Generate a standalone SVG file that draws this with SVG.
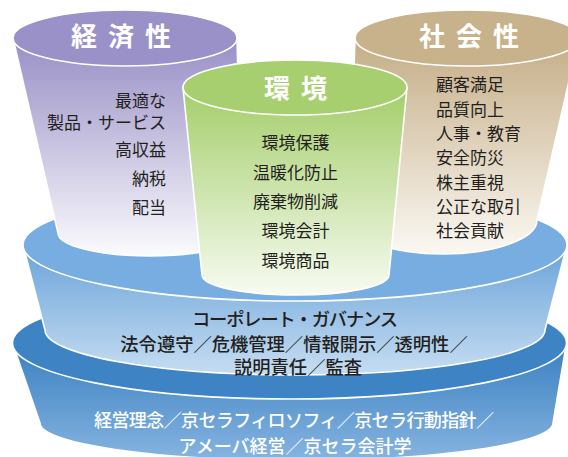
<svg xmlns="http://www.w3.org/2000/svg" width="568" height="457" viewBox="0 0 568 457">
  <defs>
    <linearGradient id="gBase" gradientUnits="userSpaceOnUse" x1="0" y1="345" x2="0" y2="460">
      <stop offset="0" stop-color="#3a80c1"/>
      <stop offset="1" stop-color="#86b4e0"/>
    </linearGradient>
    <linearGradient id="gGov" gradientUnits="userSpaceOnUse" x1="0" y1="245" x2="0" y2="375">
      <stop offset="0" stop-color="#6aa3d9"/>
      <stop offset="1" stop-color="#c6ddf2"/>
    </linearGradient>
    <linearGradient id="gEco" gradientUnits="userSpaceOnUse" x1="0" y1="40" x2="0" y2="256">
      <stop offset="0" stop-color="#9890c6"/>
      <stop offset="1" stop-color="#fbfafd"/>
    </linearGradient>
    <linearGradient id="gSoc" gradientUnits="userSpaceOnUse" x1="0" y1="40" x2="0" y2="254">
      <stop offset="0" stop-color="#c5ae87"/>
      <stop offset="1" stop-color="#fbf8f3"/>
    </linearGradient>
    <linearGradient id="gEnv" gradientUnits="userSpaceOnUse" x1="0" y1="88" x2="0" y2="295">
      <stop offset="0" stop-color="#a4ce6a"/>
      <stop offset="1" stop-color="#f7fbf1"/>
    </linearGradient>
  </defs>
  <style>
    .edge { stroke: #ffffff; stroke-width: 1.6; stroke-linejoin: round; }
    .title { font-family: "Noto Sans", "Noto Sans CJK JP", sans-serif; font-size: 26px; font-weight: 700; fill: #ffffff; letter-spacing: 11px; }
    .item { font-family: "Noto Sans", "Noto Sans CJK JP", sans-serif; font-size: 17px; fill: #231f20; }
    .gov { font-family: "Noto Sans", "Noto Sans CJK JP", sans-serif; font-size: 18.3px; font-weight: 500; fill: #231f20; text-anchor: middle; }
    .base { font-family: "Noto Sans", "Noto Sans CJK JP", sans-serif; font-size: 18px; font-weight: 500; fill: #ffffff; text-anchor: middle; }
  </style>

  <!-- base tier: management philosophy -->
  <g id="tier-base">
    <path class="edge" fill="url(#gBase)" d="M12.5 343 L40 423 A256.5 37.5 0 0 0 553 423 L566.5 343 Z"/>
    <ellipse class="edge" cx="289.5" cy="343" rx="277" ry="56" fill="#3e83c3"/>
    <text class="base" x="294" y="427" textLength="400" lengthAdjust="spacing">経営理念／京セラフィロソフィ／京セラ行動指針／</text>
    <text class="base" x="295" y="453">アメーバ経営／京セラ会計学</text>
  </g>

  <!-- middle tier: corporate governance -->
  <g id="tier-governance">
    <path class="edge" fill="url(#gGov)" d="M23 245 L45 330 A250 45 0 0 0 545 330 L567 245 Z"/>
    <ellipse class="edge" cx="295" cy="245" rx="272" ry="56" fill="#77ade0"/>
    <text class="gov" x="295" y="326" textLength="206" lengthAdjust="spacing">コーポレート・ガバナンス</text>
    <text class="gov" x="294" y="350.5">法令遵守／危機管理／情報開示／透明性／</text>
    <text class="gov" x="298" y="374">説明責任／監査</text>
  </g>

  <!-- left cup: economy -->
  <g id="cup-economy">
    <path class="edge" fill="url(#gEco)" d="M13 38 L58 233 A92 23 0 0 0 242 233 L237 38 Z"/>
    <ellipse class="edge" cx="125" cy="38" rx="112" ry="28" fill="#9a91c8"/>
    <text class="title" x="71" y="46">経済性</text>
    <g class="item" text-anchor="end">
      <text x="166" y="107">最適な</text>
      <text x="166" y="128.5">製品・サービス</text>
      <text x="166" y="155.5">高収益</text>
      <text x="166" y="185">納税</text>
      <text x="166" y="214">配当</text>
    </g>
  </g>

  <!-- right cup: society -->
  <g id="cup-society">
    <path class="edge" fill="url(#gSoc)" d="M355 38 L349 220 A94 34 0 0 0 537 220 L579 38 Z"/>
    <ellipse class="edge" cx="467" cy="38" rx="112" ry="28" fill="#c8b28b"/>
    <text class="title" x="419" y="46">社会性</text>
    <g class="item">
      <text x="436" y="91">顧客満足</text>
      <text x="436" y="115.5">品質向上</text>
      <text x="436" y="140">人事・教育</text>
      <text x="436" y="164">安全防災</text>
      <text x="436" y="188.5">株主重視</text>
      <text x="436" y="213">公正な取引</text>
      <text x="436" y="237">社会貢献</text>
    </g>
  </g>

  <!-- front cup: environment -->
  <g id="cup-environment">
    <path class="edge" fill="url(#gEnv)" d="M183 87.5 L202 275 A93.5 20 0 0 0 389 275 L407 87.5 Z"/>
    <ellipse class="edge" cx="295" cy="87.5" rx="112" ry="27.5" fill="#a8cf6f"/>
    <text class="title" x="264" y="98">環境</text>
    <g class="item" text-anchor="middle">
      <text x="295.5" y="149">環境保護</text>
      <text x="295.5" y="179">温暖化防止</text>
      <text x="295.5" y="208">廃棄物削減</text>
      <text x="295.5" y="237">環境会計</text>
      <text x="295.5" y="267">環境商品</text>
    </g>
  </g>
</svg>
